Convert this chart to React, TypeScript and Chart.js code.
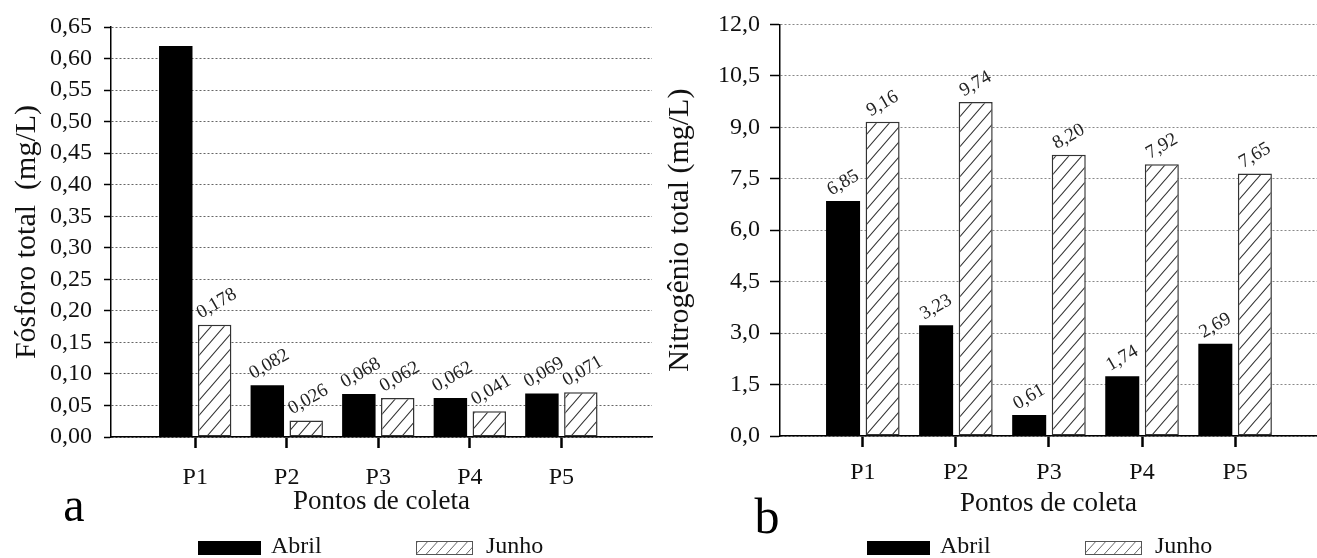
import React, { useEffect, useRef } from 'react';
import { Chart, registerables } from 'chart.js';

Chart.register(...registerables);

// ---------- data ----------
const categories = ['P1', 'P2', 'P3', 'P4', 'P5'];
const seriesNames = ['Abril', 'Junho'];

const fosforoAbril = [0.62, 0.082, 0.068, 0.062, 0.069];
const fosforoJunho = [0.178, 0.026, 0.062, 0.041, 0.071];
const fosforoAbrilLabelShown = [false, true, true, true, true];

const nitrogenioAbril = [6.85, 3.23, 0.61, 1.74, 2.69];
const nitrogenioJunho = [9.16, 9.74, 8.2, 7.92, 7.65];
const nitrogenioAbrilLabelShown = [true, true, true, true, true];

const fosforoAxis = { max: 0.65, step: 0.05, decimals: 2 };
const nitrogenioAxis = { max: 12, step: 1.5, decimals: 1 };
const fosforoValueDecimals = 3;
const nitrogenioValueDecimals = 2;

const fosforoTitle = 'Fósforo total  (mg/L)';
const nitrogenioTitle = 'Nitrogênio total (mg/L)';
const xTitle = 'Pontos de coleta';

const FONT = "'Liberation Serif', 'Times New Roman', serif";

const fmt = (v: number, d: number) => v.toFixed(d).replace('.', ',');

function makeHatch(ctx: CanvasRenderingContext2D, w: number, h: number, color: string, lw: number) {
  const c = document.createElement('canvas');
  c.width = w;
  c.height = h;
  const g = c.getContext('2d')!;
  g.fillStyle = '#fff';
  g.fillRect(0, 0, w, h);
  g.strokeStyle = color;
  g.lineWidth = lw;
  const k = h / w;
  g.beginPath();
  g.moveTo(-3, h + 3 * k);
  g.lineTo(w + 3, -3 * k);
  g.moveTo(-3, 3 * k);
  g.lineTo(3, -3 * k);
  g.moveTo(w - 3, h + 3 * k);
  g.lineTo(w + 3, h - 3 * k);
  g.stroke();
  return ctx.createPattern(c, 'repeat')!;
}

type Params = {
  abril: number[];
  junho: number[];
  abrilShown: boolean[];
  axis: { max: number; step: number; decimals: number };
  valueDecimals: number;
  yTitle: string;
  letter: string;
  yWidth: number;
  yTickLen: number;
  yTickPad: number;
  yTitlePad: number;
  yTitleSize: number;
  xMin: number;
  xMax: number;
  xHeight: number;
  xTickPad: number;
  padTop: number;
  padRight: number;
  padBottom: number;
  gridColor: string;
  labelDy: number;
  labelDx: number;
  letterX: number;
  letterY: number;
  letterSize: number;
};

function buildChart(canvas: HTMLCanvasElement, p: Params) {
  const ctx = canvas.getContext('2d')!;
  const hatch = makeHatch(ctx, 13, 15, '#333', 1.1);
  const legendHatch = makeHatch(ctx, 10, 11, '#555', 0.9);
  const toPts = (vals: number[]) => vals.map((v, i) => ({ x: i + 1, y: v }));

  const decor = {
    id: 'decor',
    afterDatasetsDraw(chart: any) {
      const c: CanvasRenderingContext2D = chart.ctx;
      const area = chart.chartArea;
      c.save();
      // value labels
      c.font = `19px ${FONT}`;
      c.fillStyle = '#222';
      c.textAlign = 'center';
      c.textBaseline = 'middle';
      chart.data.datasets.forEach((ds: any, di: number) => {
        const meta = chart.getDatasetMeta(di);
        meta.data.forEach((el: any, i: number) => {
          if (di === 0 && !p.abrilShown[i]) return;
          const v = ds.data[i].y;
          c.save();
          c.translate(el.x + p.labelDx, el.y - p.labelDy);
          c.rotate(-Math.PI / 6);
          c.fillText(fmt(v, p.valueDecimals), 0, 0);
          c.restore();
        });
      });
      // legend
      const ly = 541;
      const bh = 14;
      c.textAlign = 'left';
      c.textBaseline = 'alphabetic';
      c.font = `24px ${FONT}`;
      c.fillStyle = '#000';
      const ax = area.left + 87;
      c.fillRect(ax, ly, 63, bh);
      c.fillStyle = '#111';
      c.fillText(seriesNames[0], ax + 73, ly + 12);
      const jx = area.left + 305;
      c.fillStyle = legendHatch;
      c.fillRect(jx, ly, 57, bh);
      c.strokeStyle = '#555';
      c.lineWidth = 1;
      c.strokeRect(jx + 0.5, ly + 0.5, 56, bh - 1);
      c.fillStyle = '#111';
      c.fillText(seriesNames[1], jx + 70, ly + 12);
      // panel letter
      c.textAlign = 'center';
      c.font = `${p.letterSize}px ${FONT}`;
      c.fillStyle = '#000';
      c.fillText(p.letter, p.letterX, p.letterY);
      c.restore();
    },
  };

  return new Chart(ctx, {
    type: 'bar',
    data: {
      datasets: [
        {
          label: seriesNames[0],
          data: toPts(p.abril) as any,
          backgroundColor: '#000',
          borderWidth: 0,
          categoryPercentage: 0.85,
          barPercentage: 0.86,
        },
        {
          label: seriesNames[1],
          data: toPts(p.junho) as any,
          backgroundColor: hatch as any,
          borderColor: '#333',
          borderWidth: 1.5,
          borderSkipped: false,
          categoryPercentage: 0.85,
          barPercentage: 0.86,
        },
      ],
    },
    options: {
      responsive: false,
      animation: false,
      devicePixelRatio: 1,
      layout: { padding: { left: 0, right: p.padRight, top: p.padTop, bottom: p.padBottom } },
      plugins: { legend: { display: false }, tooltip: { enabled: false } },
      scales: {
        x: {
          type: 'linear',
          offset: false,
          min: p.xMin,
          max: p.xMax,
          afterFit: (s: any) => {
            s.height = p.xHeight;
          },
          ticks: {
            stepSize: 1,
            includeBounds: false,
            autoSkip: false,
            maxRotation: 0,
            padding: p.xTickPad,
            color: '#111',
            font: { family: FONT, size: 24 },
            callback: (v: any) => {
              const n = Number(v);
              return Number.isInteger(n) && n >= 1 && n <= categories.length ? categories[n - 1] : null;
            },
          },
          grid: {
            offset: false,
            drawOnChartArea: false,
            drawTicks: true,
            tickLength: 11,
            tickWidth: 2.5,
            tickColor: '#000',
            color: '#000',
          },
          border: { display: true, color: '#000', width: 1.5 },
          title: {
            display: true,
            text: xTitle,
            color: '#111',
            font: { family: FONT, size: 27 },
            padding: { top: 0, bottom: 0 },
          },
        } as any,
        y: {
          min: 0,
          max: p.axis.max,
          afterFit: (s: any) => {
            s.width = p.yWidth;
          },
          ticks: {
            stepSize: p.axis.step,
            autoSkip: false,
            padding: p.yTickPad,
            color: '#111',
            font: { family: FONT, size: 24 },
            callback: (v: any) => fmt(Number(v), p.axis.decimals),
          },
          grid: {
            color: p.gridColor,
            lineWidth: 1,
            drawTicks: true,
            tickLength: p.yTickLen,
            tickWidth: 1.5,
            tickColor: '#000',
            tickBorderDash: [],
          },
          border: { display: true, color: '#000', width: 1.5, dash: [2, 2] },
          title: {
            display: true,
            text: p.yTitle,
            color: '#111',
            font: { family: FONT, size: p.yTitleSize },
            padding: { top: p.yTitlePad, bottom: 0 },
          },
        } as any,
      },
    },
    plugins: [decor],
  });
}

const paramsA: Params = {
  abril: fosforoAbril,
  junho: fosforoJunho,
  abrilShown: fosforoAbrilLabelShown,
  axis: fosforoAxis,
  valueDecimals: fosforoValueDecimals,
  yTitle: fosforoTitle,
  letter: 'a',
  yWidth: 111,
  yTickLen: 7,
  yTickPad: 12,
  yTitlePad: 9,
  yTitleSize: 30,
  xMin: 0.08,
  xMax: 5.99,
  xHeight: 81.6,
  xTickPad: 15,
  padTop: 27,
  padRight: 6,
  padBottom: 39.4,
  gridColor: '#666',
  labelDy: 21,
  labelDx: 2,
  letterX: 74,
  letterY: 521,
  letterSize: 48,
};

const paramsB: Params = {
  abril: nitrogenioAbril,
  junho: nitrogenioJunho,
  abrilShown: nitrogenioAbrilLabelShown,
  axis: nitrogenioAxis,
  valueDecimals: nitrogenioValueDecimals,
  yTitle: nitrogenioTitle,
  letter: 'b',
  yWidth: 122,
  yTickLen: 10,
  yTickPad: 10,
  yTitlePad: 4,
  yTitleSize: 30,
  xMin: 0.11,
  xMax: 5.88,
  xHeight: 84.6,
  xTickPad: 11,
  padTop: 24,
  padRight: 0,
  padBottom: 37.4,
  gridColor: '#888',
  labelDy: 18,
  labelDx: 0,
  letterX: 109,
  letterY: 533,
  letterSize: 50,
};

export default function App() {
  const refA = useRef<HTMLCanvasElement>(null);
  const refB = useRef<HTMLCanvasElement>(null);
  useEffect(() => {
    const a = buildChart(refA.current!, paramsA);
    const b = buildChart(refB.current!, paramsB);
    return () => {
      a.destroy();
      b.destroy();
    };
  }, []);
  return (
    <div style={{ position: 'absolute', left: 0, top: 0, width: 1317, height: 558, background: '#fff', overflow: 'hidden' }}>
      <canvas ref={refA} width={658} height={558} style={{ position: 'absolute', left: 0, top: 0 }} />
      <canvas ref={refB} width={659} height={558} style={{ position: 'absolute', left: 658, top: 0 }} />
    </div>
  );
}
